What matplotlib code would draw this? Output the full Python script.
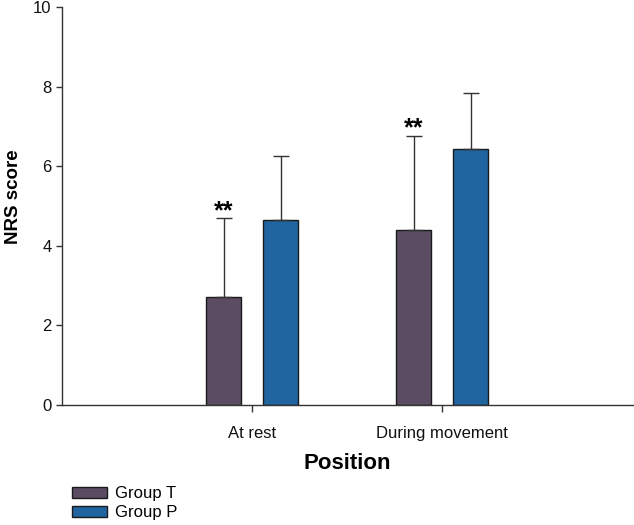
import matplotlib
matplotlib.use("Agg")
import matplotlib.pyplot as plt
import numpy as np

# data
positions = ["At rest", "During movement"]
group_t_mean = [2.72, 4.40]
group_t_sd = [1.97, 2.37]
group_p_mean = [4.64, 6.42]
group_p_sd = [1.62, 1.43]
significance = ["**", "**"]

color_t = "#5b4c63"
color_p = "#2064a0"
line_col = "#333333"

plt.rcParams["font.family"] = ["Liberation Sans", "DejaVu Sans"]

fig = plt.figure(figsize=(6.34, 5.25), dpi=100)
ax = fig.add_axes([62 / 634, 120 / 525, (633 - 62) / 634, 398 / 525])

x = np.arange(len(positions))
width = 0.184
offset = 0.15

err_kw = dict(ecolor=line_col, elinewidth=1.0, capsize=5.5, capthick=1.0)
ax.bar(x - offset, group_t_mean, width, color=color_t, edgecolor="#1a1a1a",
       linewidth=1.0, label="Group T",
       yerr=[np.zeros(len(x)), group_t_sd], error_kw=err_kw)
ax.bar(x + offset, group_p_mean, width, color=color_p, edgecolor="#1a1a1a",
       linewidth=1.0, label="Group P",
       yerr=[np.zeros(len(x)), group_p_sd], error_kw=err_kw)

for xi, m, s, txt in zip(x, group_t_mean, group_t_sd, significance):
    ax.text(xi - offset, m + s - 0.12, txt, ha="center", va="bottom",
            fontsize=18, fontweight="bold")

ax.set_xlim(-1.0, 2.005)
ax.set_ylim(0, 10)
ax.set_yticks(range(0, 11, 2))
ax.set_xticks(x)
ax.set_xticklabels(positions)

for side in ("top", "right"):
    ax.spines[side].set_visible(False)
for side in ("left", "bottom"):
    ax.spines[side].set_color(line_col)
    ax.spines[side].set_linewidth(1.0)

ax.tick_params(axis="both", labelsize=12, colors=line_col, labelcolor="#111111",
               width=1.0)
ax.tick_params(axis="y", length=4)
ax.tick_params(axis="x", length=5, pad=10)

ax.set_ylabel("NRS score", fontsize=13.5, fontweight="bold")
ax.yaxis.set_label_coords(-0.07, 0.523)
ax.set_xlabel("Position", fontsize=16, fontweight="bold", labelpad=9)

fig.legend(loc="upper left", bbox_to_anchor=(72 / 634, 1 - 486 / 525),
           frameon=False, fontsize=12, handlelength=2.1, handleheight=0.65,
           labelspacing=0.25, handletextpad=0.5, borderpad=0,
           borderaxespad=0)

fig.savefig("out.png", dpi=100)
